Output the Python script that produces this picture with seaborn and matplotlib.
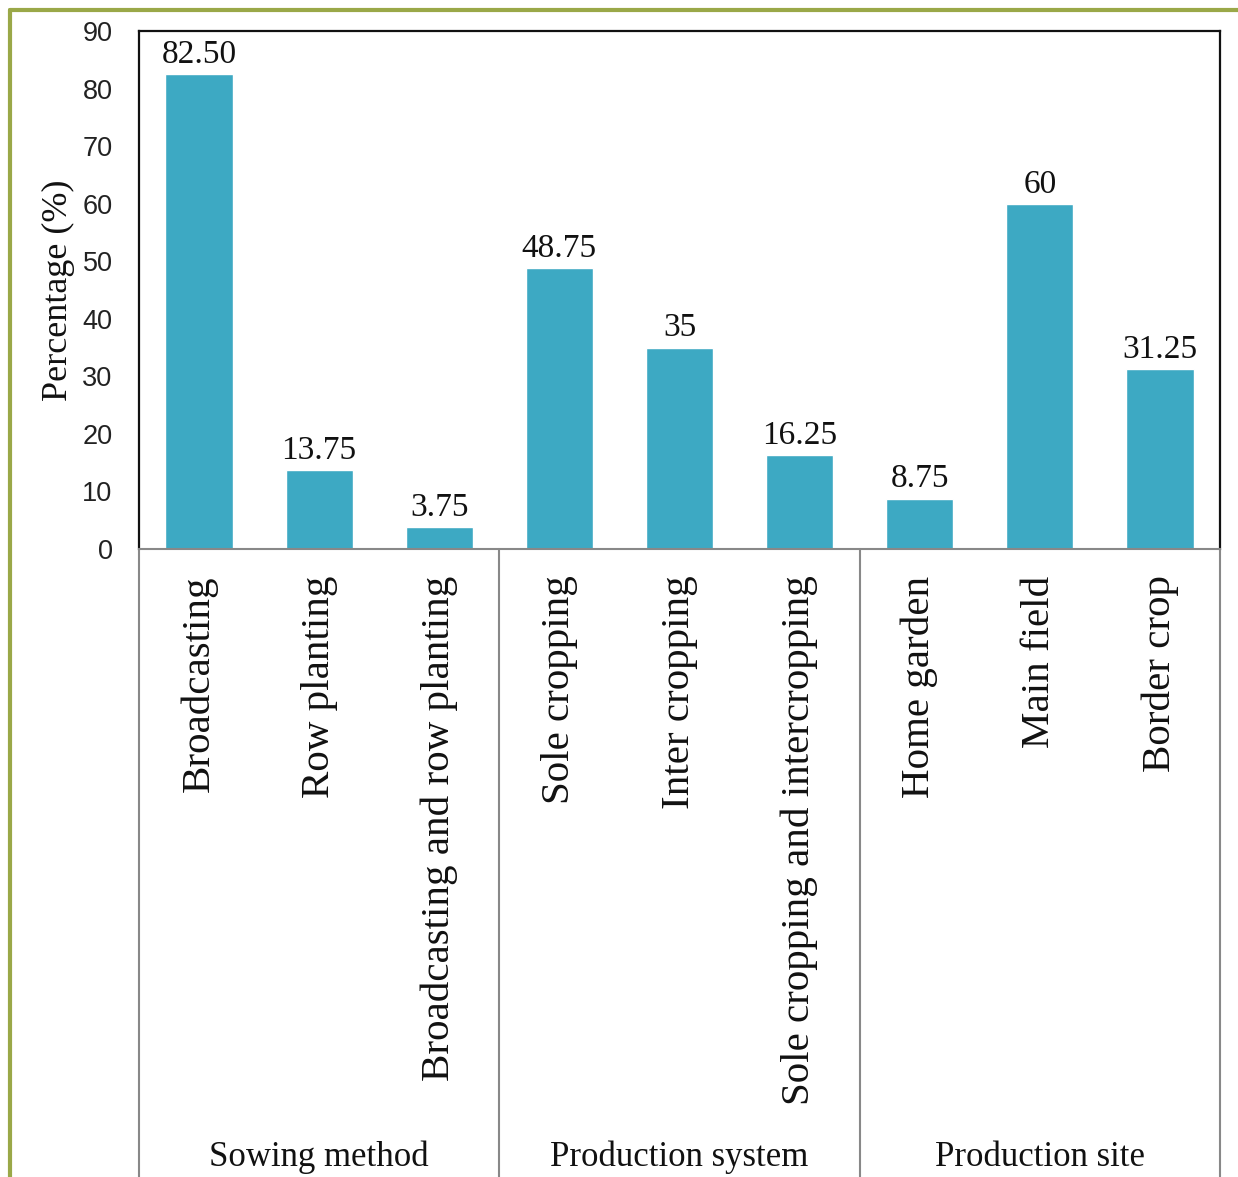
import matplotlib
matplotlib.use("Agg")
import matplotlib.pyplot as plt
import matplotlib.transforms as mtransforms
from matplotlib.lines import Line2D
import seaborn as sns
import pandas as pd

categories = ["Broadcasting", "Row planting", "Broadcasting and row planting",
              "Sole cropping", "Inter cropping", "Sole cropping and intercropping",
              "Home garden", "Main field", "Border crop"]
values = [82.50, 13.75, 3.75, 48.75, 35, 16.25, 8.75, 60, 31.25]
value_labels = ["82.50", "13.75", "3.75", "48.75", "35", "16.25", "8.75", "60", "31.25"]
groups = ["Sowing method", "Production system", "Production site"]
group_sizes = [3, 3, 3]
y_ticks = [0, 10, 20, 30, 40, 50, 60, 70, 80, 90]

sns.set_theme(style="white")
plt.rcParams['font.family'] = ['Liberation Serif', 'DejaVu Serif']

df = pd.DataFrame({"category": categories, "value": values})

fig = plt.figure(figsize=(12.38, 11.77), dpi=100)
ax = fig.add_axes([139/1238, 1 - 549/1177, (1220 - 139)/1238, (549 - 31)/1177])

sns.barplot(data=df, x="category", y="value", order=categories, color="#3da9c3",
            saturation=1, width=0.56, ax=ax)

ax.set_xlim(-0.5, len(categories) - 0.5)
ax.set_ylim(0, 90)
ax.set_yticks(y_ticks)
ax.set_yticklabels([str(t) for t in y_ticks], family=['Liberation Sans', 'DejaVu Sans'],
                   fontsize=19.5, color="#222222")
ax.tick_params(axis='y', length=0, pad=19)
ax.tick_params(axis='x', length=0, pad=19)
ax.set_xticks(range(len(categories)))
ax.set_xticklabels(categories, rotation=90, fontsize=29.5, va='top', ha='center', color="#111111")
ax.set_xlabel("")
ax.set_ylabel("Percentage (%)", fontsize=26, labelpad=5, color="#111111")

for side in ["top", "right", "left"]:
    ax.spines[side].set_color("#111111")
    ax.spines[side].set_linewidth(1.6)
ax.spines["bottom"].set_color("#888888")
ax.spines["bottom"].set_linewidth(1.5)

for i, (v, lab) in enumerate(zip(values, value_labels)):
    ax.annotate(lab, (i, v), xytext=(0, 3), textcoords="offset points",
                ha='center', va='bottom', fontsize=24, color="#111111")

# group separators and labels below the axis
trans = mtransforms.blended_transform_factory(ax.transData, fig.transFigure)
ax_bottom = 1 - 549/1177
edges = [-0.5]
for s in group_sizes:
    edges.append(edges[-1] + s)
for e in edges:
    fig.add_artist(Line2D([e, e], [0, ax_bottom], transform=trans,
                          color="#888888", linewidth=1.5))
for gi, g in enumerate(groups):
    center = (edges[gi] + edges[gi + 1]) / 2
    fig.text(center, 1 - 1157/1177, g, transform=trans, ha='center', va='center',
             fontsize=25, color="#111111")

# olive outer frame (left and top)
fig.add_artist(Line2D([10/1238, 10/1238], [0, 1 - 10/1177], transform=fig.transFigure,
                      color="#9aa848", linewidth=3))
fig.add_artist(Line2D([10/1238, 1], [1 - 10/1177, 1 - 10/1177], transform=fig.transFigure,
                      color="#9aa848", linewidth=3))

fig.savefig("out.png", dpi=100, facecolor="white")
